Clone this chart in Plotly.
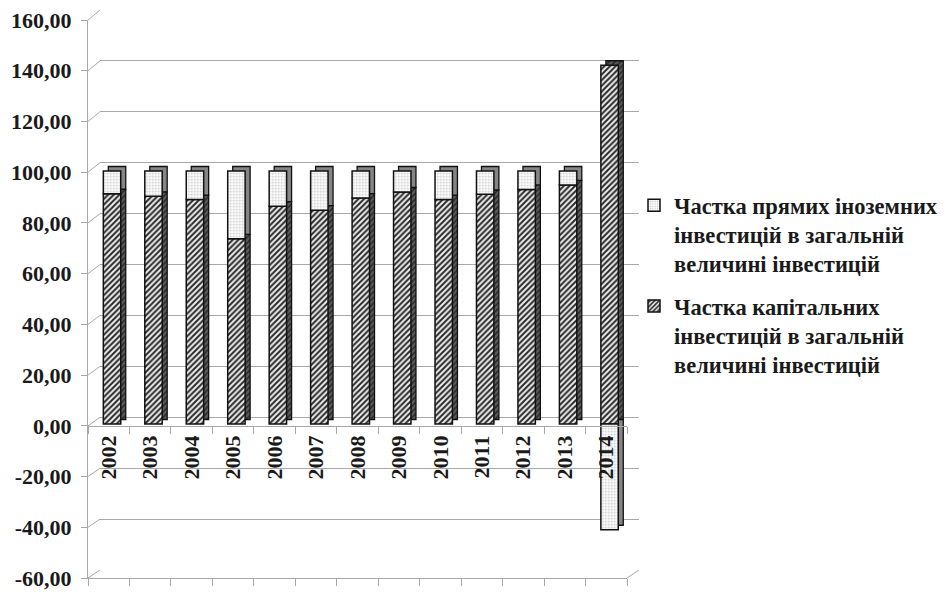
import plotly.graph_objects as go

years = ["2002", "2003", "2004", "2005", "2006", "2007", "2008", "2009", "2010", "2011", "2012", "2013", "2014"]
capital_share = [91.0, 90.0, 88.7, 73.2, 86.1, 84.5, 89.3, 91.7, 88.7, 90.8, 92.7, 94.5, 141.8]
fdi_share = [9.0, 10.0, 11.3, 26.8, 13.9, 15.5, 10.7, 8.3, 11.3, 9.2, 7.3, 5.5, -41.8]
y_tick_vals = [-60, -40, -20, 0, 20, 40, 60, 80, 100, 120, 140, 160]
y_tick_text = ["-60,00", "-40,00", "-20,00", "0,00", "20,00", "40,00", "60,00", "80,00",
               "100,00", "120,00", "140,00", "160,00"]
name_fdi = "Частка прямих іноземних<br>інвестицій в загальній<br>величині інвестицій"
name_cap = "Частка капітальних<br>інвестицій в загальній<br>величині інвестицій"

W, H = 952, 592
YMIN, YMAX = -60, 160
FONT = "Liberation Serif"


def fx(px):
    return px / W


def fy(py):
    return (H - py) / H


def bold(s):
    return "<b>" + s.replace("<br>", "</b><br><b>") + "</b>"


# pixel geometry of the pseudo-3D box
front_x = (88, 627)
front_y = (578, 20)      # y pixel of YMIN, YMAX on the front plane
back_x = (100, 639)
back_y = (570, 10)
bar_x = (91.3, 630.3)
bar_y = (575.8, 19.2)
depth = (5, 4.5)

fig = go.Figure()

# invisible helper so the back wall subplot exists
fig.add_trace(go.Scatter(x=[None], y=[None], xaxis="x", yaxis="y", showlegend=False,
                         hoverinfo="skip"))

# back copies of the bars (side / top faces)
fig.add_trace(go.Bar(x=years, y=capital_share, xaxis="x2", yaxis="y2", showlegend=False,
                     width=0.42, hoverinfo="skip",
                     marker=dict(color="#5a5a5a", line=dict(color="#111", width=1.3),
                                 pattern=dict(shape="/", fgcolor="#222", bgcolor="#5a5a5a",
                                              size=4, solidity=0.35))))
fig.add_trace(go.Bar(x=years, y=fdi_share, xaxis="x2", yaxis="y2", showlegend=False,
                     width=0.42, hoverinfo="skip",
                     marker=dict(color="#858585", line=dict(color="#111", width=1.3))))

# front faces
fig.add_trace(go.Bar(x=years, y=capital_share, xaxis="x3", yaxis="y3", name=bold(name_cap),
                     width=0.42, legendgroup="cap", legendrank=2,
                     marker=dict(color="white", line=dict(color="#111", width=1.5),
                                 pattern=dict(shape="/", fgcolor="#2a2a2a", bgcolor="#eeeeee",
                                              size=4, solidity=0.5))))
fig.add_trace(go.Bar(x=years, y=fdi_share, xaxis="x3", yaxis="y3", name=bold(name_fdi),
                     width=0.42, legendgroup="fdi", legendrank=1,
                     marker=dict(color="white", line=dict(color="#111", width=1.5),
                                 pattern=dict(shape=".", fgcolor="#c8c8c8", bgcolor="white",
                                              size=3, solidity=0.3))))

# helper traces so the front label axes exist
fig.add_trace(go.Scatter(x=[None], y=[None], xaxis="x4", yaxis="y4", showlegend=False,
                         hoverinfo="skip"))
fig.add_trace(go.Scatter(x=[None], y=[None], xaxis="x5", yaxis="y4", showlegend=False,
                         hoverinfo="skip"))

hidden = dict(visible=False, showgrid=False, zeroline=False, automargin=False)

front_dom_y = [fy(front_y[0]), fy(front_y[1])]
zero_pos = front_dom_y[0] + (0 - YMIN) / (YMAX - YMIN) * (front_dom_y[1] - front_dom_y[0])
boundaries = [i - 0.5 for i in range(len(years) + 1)]
grid_col = "#a8a8a8"
axis_font = dict(family=FONT, size=22, color="#1a1a1a")

fig.update_layout(
    template="none",
    width=W, height=H,
    margin=dict(l=0, r=0, t=0, b=0, autoexpand=False),
    paper_bgcolor="white",
    plot_bgcolor="rgba(0,0,0,0)",
    barmode="relative",
    font=dict(family=FONT, color="#1a1a1a"),
    # back wall with grid lines
    xaxis=dict(domain=[fx(back_x[0]), fx(back_x[1])], range=[-0.5, 12.5], **hidden),
    yaxis=dict(domain=[fy(back_y[0]), fy(back_y[1])], range=[YMIN, YMAX], automargin=False,
               tickvals=y_tick_vals, showgrid=True, gridcolor=grid_col, gridwidth=1,
               showticklabels=False, ticks="", zeroline=False, showline=False),
    # bar depth copies
    xaxis2=dict(domain=[fx(bar_x[0] + depth[0]), fx(bar_x[1] + depth[0])], anchor="y2",
                type="category", categoryarray=years, **hidden),
    yaxis2=dict(domain=[fy(bar_y[0] - depth[1]), fy(bar_y[1] - depth[1])], anchor="x2",
                range=[YMIN, YMAX], **hidden),
    # bar fronts
    xaxis3=dict(domain=[fx(bar_x[0]), fx(bar_x[1])], anchor="y3",
                type="category", categoryarray=years, **hidden),
    yaxis3=dict(domain=[fy(bar_y[0]), fy(bar_y[1])], anchor="x3",
                range=[YMIN, YMAX], **hidden),
    # front axes with labels
    xaxis4=dict(domain=[fx(front_x[0]), fx(front_x[1])], anchor="y4", range=[-0.5, 12.5],
                showgrid=False, zeroline=False, showline=True, linecolor=grid_col,
                showticklabels=False, ticks="", automargin=False,
                minor=dict(tickvals=boundaries, ticks="outside", ticklen=7, tickcolor=grid_col)),
    yaxis4=dict(domain=front_dom_y, anchor="x4", range=[YMIN, YMAX], automargin=False,
                tickvals=y_tick_vals, ticktext=[bold(t) for t in y_tick_text],
                showgrid=False, zeroline=False,
                showline=True, linecolor=grid_col, ticks="outside", ticklen=6,
                tickcolor=grid_col, tickfont=axis_font, ticklabelstandoff=5),
    xaxis5=dict(overlaying="x4", anchor="free", position=zero_pos, range=[-0.5, 12.5],
                tickvals=list(range(len(years))), ticktext=[bold(t) for t in years],
                tickangle=-90, automargin=False,
                tickfont=axis_font, ticks="", showgrid=False, zeroline=False,
                showline=True, linecolor=grid_col,
                minor=dict(tickvals=boundaries, ticks="outside", ticklen=7, tickcolor=grid_col)),
    legend=dict(x=fx(634), y=fy(184), xanchor="left", yanchor="top",
                traceorder="grouped", tracegroupgap=10, valign="top",
                font=dict(family=FONT, size=22.5, color="#1a1a1a"),
                bgcolor="rgba(0,0,0,0)"),
    showlegend=True,
)

# diagonal edges joining the front plane with the back wall
shapes = []
for v in y_tick_vals:
    t = (v - YMIN) / (YMAX - YMIN)
    yf = front_y[0] + t * (front_y[1] - front_y[0])
    yb = back_y[0] + t * (back_y[1] - back_y[0])
    shapes.append(dict(type="line", xref="paper", yref="paper",
                       x0=fx(front_x[0]), y0=fy(yf), x1=fx(back_x[0]), y1=fy(yb),
                       line=dict(color=grid_col, width=1), layer="above"))
shapes.append(dict(type="line", xref="paper", yref="paper",
                   x0=fx(front_x[1]), y0=fy(front_y[0]), x1=fx(back_x[1]), y1=fy(back_y[0]),
                   line=dict(color=grid_col, width=1), layer="above"))
fig.update_layout(shapes=shapes)

fig.write_html("out.html")
